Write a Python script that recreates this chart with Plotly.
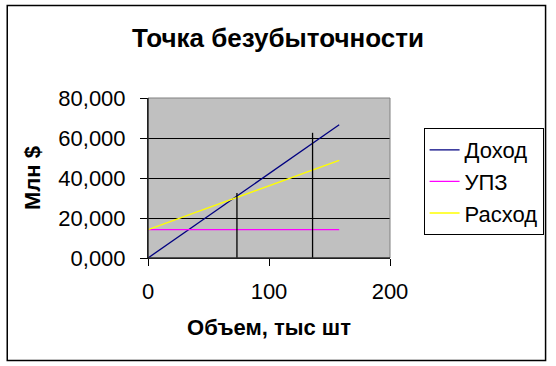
import plotly.graph_objects as go

# Data
volume = [0, 158]
revenue = [0, 66650]
fixed_costs = [14150, 14150]
total_costs = [14150, 48800]
marker_x = [73.5, 136]
marker_top = [32500, 62600]

series_names = ["Доход", "УПЗ", "Расход"]
series_colors = ["#000080", "#FF00FF", "#FFFF00"]

y_tickvals = [0, 20000, 40000, 60000, 80000]
y_ticktext = ["0,000", "20,000", "40,000", "60,000", "80,000"]
x_tickvals = [0, 100, 200]

FONT = "Liberation Sans, Arial, sans-serif"

fig = go.Figure()
for name, ys, col in zip(series_names, [revenue, fixed_costs, total_costs], series_colors):
    fig.add_trace(go.Scatter(x=volume, y=ys, mode="lines", name=name,
                             line=dict(color=col, width=1.3)))
for mx, mt in zip(marker_x, marker_top):
    fig.add_trace(go.Scatter(x=[mx, mx], y=[0, mt], mode="lines", showlegend=False,
                             line=dict(color="black", width=1.3), hoverinfo="skip"))

W, H = 556, 366
L, R, T, B = 148, 163, 98, 108
pw, ph = W - L - R, H - T - B

def px2paper_x(p):
    return (p - L) / pw

def px2paper_y(p):
    return (H - B - p) / ph

fig.update_layout(
    width=W, height=H,
    margin=dict(l=L, r=R, t=T, b=B, pad=0),
    paper_bgcolor="white",
    plot_bgcolor="#C0C0C0",
    font=dict(family=FONT, color="black", size=22),
    title=dict(text="<b>Точка безубыточности</b>", x=0.5, xref="container", xanchor="center",
               y=1 - 38 / H, yref="container", yanchor="middle",
               font=dict(size=26, family=FONT, color="black")),
    xaxis=dict(range=[0, 200], tickvals=x_tickvals, showgrid=False, zeroline=False,
               showline=True, linecolor="black", linewidth=1,
               ticks="outside", ticklen=7, tickcolor="black",
               tickfont=dict(size=22), ticklabelstandoff=7,
               title=dict(text="<b>Объем, тыс шт</b>", font=dict(size=22), standoff=16)),
    yaxis=dict(range=[0, 80000], tickvals=y_tickvals, ticktext=y_ticktext,
               showgrid=True, gridcolor="black", gridwidth=1, zeroline=False,
               showline=True, linecolor="black", linewidth=1,
               ticks="outside", ticklen=7, tickcolor="black",
               tickfont=dict(size=22), ticklabelstandoff=10,
               title=dict(text="<b>Млн $</b>", font=dict(size=22), standoff=11)),
    legend=dict(x=px2paper_x(427), y=px2paper_y(128), xanchor="left", yanchor="top",
                bgcolor="white", bordercolor="black", borderwidth=1,
                font=dict(size=22, family=FONT), itemwidth=30),
    shapes=[
        dict(type="rect", xref="paper", yref="paper", x0=0, x1=1, y0=0, y1=1,
             line=dict(color="#808080", width=1), layer="above"),
        dict(type="line", xref="paper", yref="paper", x0=0, x1=0, y0=0, y1=1,
             line=dict(color="black", width=1), layer="above"),
        dict(type="line", xref="paper", yref="paper", x0=0, x1=1, y0=0, y1=0,
             line=dict(color="black", width=1), layer="above"),
        dict(type="rect", xref="paper", yref="paper",
             x0=px2paper_x(5.5), x1=px2paper_x(550.5),
             y0=px2paper_y(360.5), y1=px2paper_y(5.5),
             line=dict(color="black", width=1.5), layer="above"),
    ],
)

fig.write_html("out.html")
